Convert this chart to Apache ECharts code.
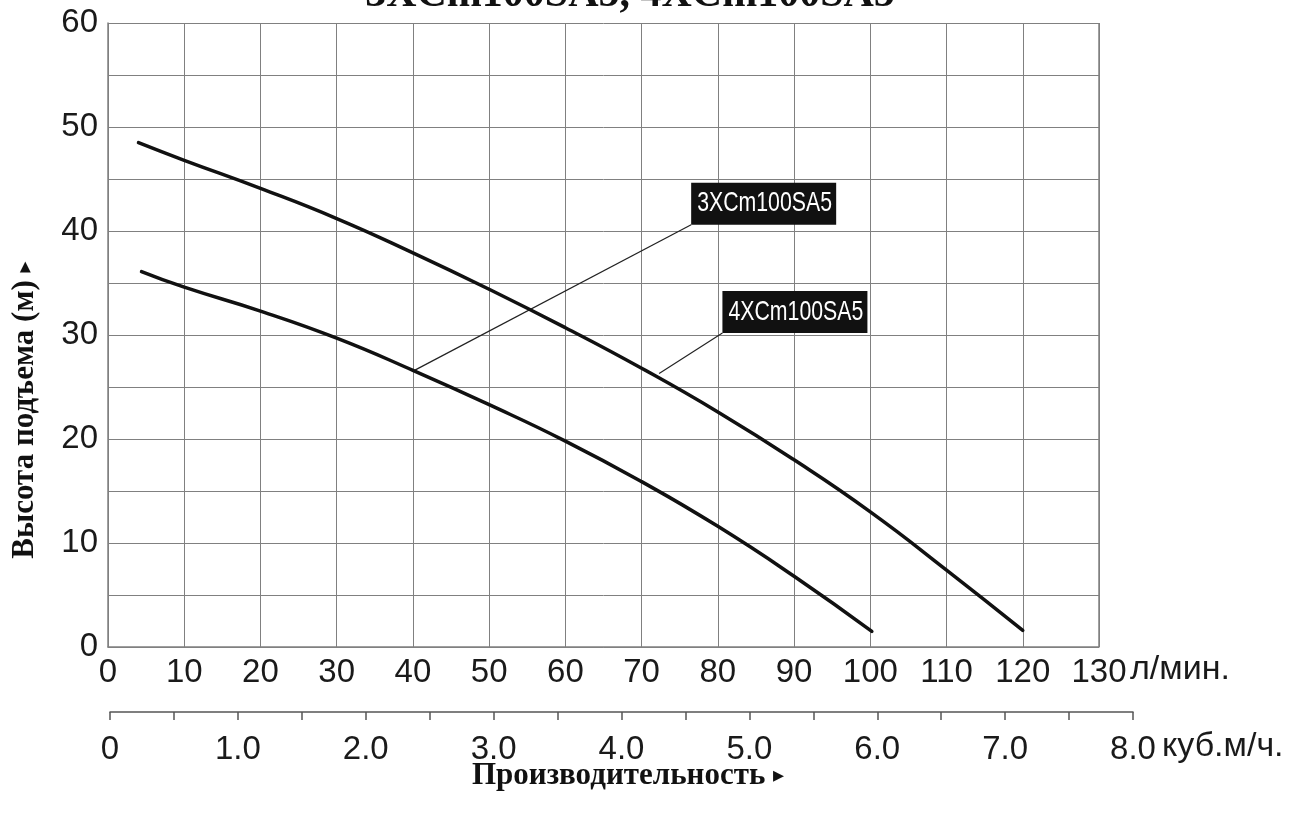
<!DOCTYPE html>
<html><head><meta charset="utf-8">
<script src="https://cdn.jsdelivr.net/npm/echarts@6/dist/echarts.min.js"></script>
<style>html,body{margin:0;padding:0;background:#fff}#c{width:1294px;height:816px}</style>
</head><body><div id="c"></div>
<script>
// ---- data ----
var titleText = '3XCm100SA5, 4XCm100SA5';
var yName = 'Высота подъема (м)';
var xName = 'Производительность';
var arrow = '▸';
var unitLpm = 'л/мин.';
var unitM3h = 'куб.м/ч.';
var seriesNames = ['4XCm100SA5', '3XCm100SA5'];
// upper curve (4XCm100SA5): flow l/min, head m
var flow4 = [4, 10, 20, 30, 40, 50, 60, 70, 80, 90, 100, 110, 120];
var head4 = [48.5, 46.8, 44.1, 41.2, 37.9, 34.4, 30.7, 26.8, 22.6, 18.0, 13.0, 7.4, 1.6];
// lower curve (3XCm100SA5)
var flow3 = [4.4, 10, 20, 30, 40, 50, 60, 70, 80, 90, 100.2];
var head3 = [36.1, 34.6, 32.3, 29.7, 26.6, 23.3, 19.8, 15.9, 11.6, 6.8, 1.5];
// annotation anchors (data coords): point on curve, box lower-left corner
var ann3 = [[40.2, 26.6], [76.5, 40.6]];
var ann4 = [[72.3, 26.3], [80.6, 30.2]];
var yTicks = [0, 10, 20, 30, 40, 50, 60];
var m3hTicks = [0, 1, 2, 3, 4, 5, 6, 7, 8];

function pairs(xs, ys) { return xs.map(function (x, i) { return [x, ys[i]]; }); }

var chart = echarts.init(document.getElementById('c'), null, {renderer: 'canvas'});
var gridColor = '#808080';
var txt = '#1a1a1a';
var sans = '"Liberation Sans", Arial, sans-serif';
var serif = '"Liberation Serif", "Times New Roman", serif';

function leader(a) {
  return {
    type: 'line', xAxisIndex: 0, yAxisIndex: 0, data: a, symbol: 'none', silent: true,
    lineStyle: {color: '#222', width: 1.2}, z: 3
  };
}

var option = {
  animation: false,
  backgroundColor: '#fff',
  grid: [
    {left: 108, top: 23, right: 195, bottom: 169},
    {left: 110, right: 161, top: 700, bottom: 104}
  ],
  xAxis: [{
    type: 'value', gridIndex: 0, min: 0, max: 130, interval: 10,
    axisLine: {lineStyle: {color: gridColor, width: 1.5}},
    axisTick: {show: false},
    splitLine: {show: true, lineStyle: {color: gridColor, width: 1}},
    axisLabel: {color: txt, fontSize: 33, fontFamily: sans, margin: 9}
  }, {
    type: 'value', gridIndex: 1, min: 0, max: 8, interval: 0.5, position: 'bottom',
    axisLine: {show: true, lineStyle: {color: '#555', width: 1.5}},
    axisTick: {show: true, length: 8, lineStyle: {color: '#555', width: 1.5}},
    splitLine: {show: false},
    axisLabel: {
      color: txt, fontSize: 33, fontFamily: sans, margin: 21,
      formatter: function (v) {
        if (m3hTicks.indexOf(v) < 0) return '';
        return v === 0 ? '0' : v.toFixed(1);
      }
    }
  }],
  yAxis: [{
    type: 'value', gridIndex: 0, min: 0, max: 60, interval: 5,
    axisLine: {show: true, lineStyle: {color: gridColor, width: 1.5}},
    axisTick: {show: false},
    splitLine: {show: true, lineStyle: {color: gridColor, width: 1}},
    axisLabel: {
      color: txt, fontSize: 33, fontFamily: sans, margin: 10,
      formatter: function (v) { return yTicks.indexOf(v) >= 0 ? String(v) : ''; }
    }
  }, {
    type: 'value', gridIndex: 1, show: false, min: 0, max: 1
  }],
  series: [{
    name: seriesNames[0], type: 'line', xAxisIndex: 0, yAxisIndex: 0,
    data: pairs(flow4, head4), smooth: 0.5, symbol: 'none',
    lineStyle: {color: '#111', width: 3.5, cap: 'round'}, z: 4
  }, {
    name: seriesNames[1], type: 'line', xAxisIndex: 0, yAxisIndex: 0,
    data: pairs(flow3, head3), smooth: 0.5, symbol: 'none',
    lineStyle: {color: '#111', width: 3.5, cap: 'round'}, z: 4
  }, leader(ann3), leader(ann4)]
};
chart.setOption(option);

// label boxes positioned through the chart's own scales
function labelBox(name, corner) {
  var p = chart.convertToPixel({xAxisIndex: 0, yAxisIndex: 0}, corner);
  return {
    type: 'group', x: p[0], y: p[1], z: 100,
    children: [
      {type: 'rect', shape: {x: 0, y: -42, width: 145, height: 42}, style: {fill: '#111'}},
      {type: 'text', x: 6, y: -21, scaleX: 0.76,
        style: {text: name, font: '28px ' + sans, fill: '#fff', align: 'left', verticalAlign: 'middle'}}
    ]
  };
}
var nameRich = {
  n: {fill: '#111', fontSize: 31, fontWeight: 'bold', fontFamily: serif, lineHeight: 34},
  a: {fontSize: 22, fontFamily: '"DejaVu Sans", sans-serif', fill: '#111', lineHeight: 34, verticalAlign: 'middle'}
};
var rightEdge = chart.convertToPixel({xAxisIndex: 0}, 130);
var topEdge = chart.convertToPixel({yAxisIndex: 0}, 60);
var botEdge = chart.convertToPixel({yAxisIndex: 0}, 0);
chart.setOption({
  graphic: [
    {type: 'line', shape: {x1: rightEdge, y1: topEdge, x2: rightEdge, y2: botEdge}, style: {stroke: gridColor, lineWidth: 1.5}, z: 2},
    {type: 'text', x: 630, y: -26,
      style: {text: titleText, align: 'center', verticalAlign: 'top', font: 'bold 42px ' + serif, fill: '#111'}},
    {type: 'text', x: 25, y: 410, rotation: Math.PI / 2,
      style: {text: '{n|' + yName + ' }{a|' + arrow + '}', rich: nameRich, align: 'center', verticalAlign: 'middle'}},
    {type: 'text', x: 628, y: 776,
      style: {text: '{n|' + xName + ' }{a|' + arrow + '}', rich: nameRich, align: 'center', verticalAlign: 'middle'}},
    {type: 'text', x: 1130, y: 670,
      style: {text: unitLpm, align: 'left', verticalAlign: 'middle', font: '34px ' + sans, fill: txt}},
    {type: 'text', x: 1162, y: 747,
      style: {text: unitM3h, align: 'left', verticalAlign: 'middle', font: '34px ' + sans, fill: txt}},
    labelBox(seriesNames[1], ann3[1]),
    labelBox(seriesNames[0], ann4[1])
  ]
});
</script>
</body></html>
